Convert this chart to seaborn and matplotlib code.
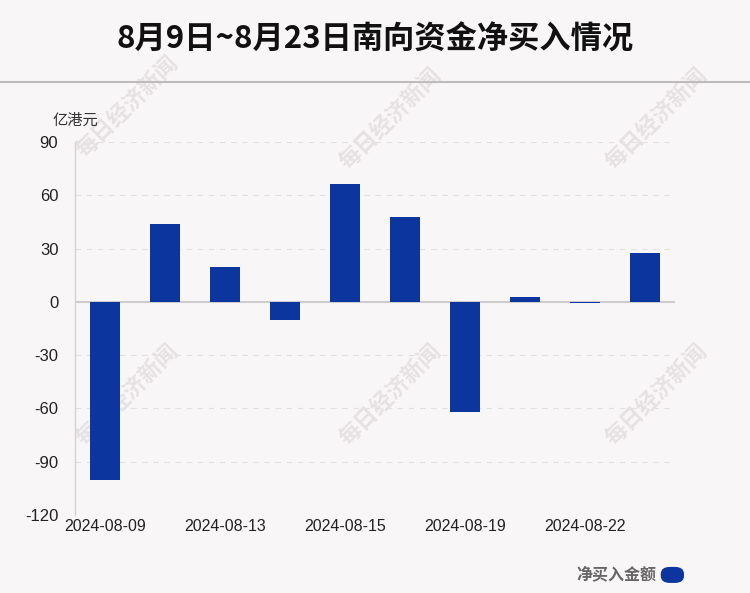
import matplotlib
matplotlib.use("Agg")
import matplotlib.pyplot as plt
from matplotlib.patches import FancyBboxPatch
from matplotlib.lines import Line2D
import pandas as pd
import seaborn as sns

dates = ['2024-08-09', '2024-08-12', '2024-08-13', '2024-08-14', '2024-08-15',
         '2024-08-16', '2024-08-19', '2024-08-20', '2024-08-22', '2024-08-23']
net_buy = [-100.1, 43.7, 19.4, -10.4, 66.5, 47.6, -61.9, 3.0, -0.6, 27.3]
shown_ticks = ['2024-08-09', '2024-08-13', '2024-08-15', '2024-08-19', '2024-08-22']
y_ticks = [90, 60, 30, 0, -30, -60, -90, -120]

title = '8月9日~8月23日南向资金净买入情况'
unit = '亿港元'
series_name = '净买入金额'
watermark = '每日经济新闻'

bg = '#f9f6f7'
bar_color = '#0d359e'

df = pd.DataFrame({'date': dates, 'value': net_buy})

sns.set_theme(style="white")
plt.rcParams['font.family'] = ['Liberation Sans', 'Noto Sans CJK SC', 'DejaVu Sans']
plt.rcParams['axes.unicode_minus'] = False

fig = plt.figure(figsize=(7.5, 5.93), dpi=100, facecolor=bg)
ax = fig.add_axes([0.1, 0.1315, 0.8, 0.629])
ax.set_facecolor(bg)

# watermarks, kept behind the bars
for wx, wy in [(0.17, 0.82), (0.52, 0.80), (0.875, 0.80), (0.17, 0.335), (0.52, 0.335), (0.875, 0.335)]:
    ax.text(wx, wy, watermark, rotation=45, ha='center', va='center', fontsize=16,
            color='#e6e1e2', fontweight='bold', family=['Noto Sans CJK SC'],
            transform=fig.transFigure, zorder=0.5, clip_on=False)

sns.barplot(data=df, x='date', y='value', color=bar_color, width=0.5,
            saturation=1, linewidth=0, ax=ax)
for p in ax.patches:
    p.set_zorder(3)

ax.set_xlim(-0.5, len(dates) - 0.5)
ax.set_ylim(-120, 90)
ax.set_yticks(y_ticks)
ax.set_yticklabels([str(t) for t in y_ticks], fontsize=12, color='#222222')
ax.set_xticks([dates.index(d) for d in shown_ticks])
ax.set_xticklabels(shown_ticks, fontsize=11.5, color='#222222')
ax.tick_params(axis='y', length=0, pad=12)
ax.tick_params(axis='x', length=0, pad=3)
ax.set_xlabel('')
ax.set_ylabel('')

for t in y_ticks:
    if t != 0:
        ax.axhline(t, color='#e2e0e0', lw=0.8, ls=(0, (5, 5)), zorder=1)
ax.axhline(0, color='#cfcccd', lw=1.5, zorder=2)

for s in ['top', 'right', 'bottom']:
    ax.spines[s].set_visible(False)
ax.spines['left'].set_color('#d4d2d2')
ax.spines['left'].set_linewidth(1)

fig.text(0.5, 0.933, title, ha='center', va='center', fontsize=22.5,
         fontweight='bold', color='#111111', family=['Noto Sans CJK SC'])
fig.add_artist(Line2D([0, 1], [0.862, 0.862], transform=fig.transFigure,
                      color='#bdbbbb', lw=1.5))
fig.text(0.1, 0.798, unit, ha='center', va='center', fontsize=11,
         color='#333333', family=['Noto Sans CJK SC'])

fig.text(0.875, 0.032, series_name, ha='right', va='center', fontsize=11.5,
         color='#666666', fontweight='bold', family=['Noto Sans CJK SC'])
fig.add_artist(FancyBboxPatch((0.881, 0.017), 0.031, 0.027,
                              boxstyle='round,pad=0,rounding_size=0.012',
                              transform=fig.transFigure, facecolor=bar_color,
                              edgecolor='none'))

fig.savefig("out.png", dpi=100, facecolor=bg)
